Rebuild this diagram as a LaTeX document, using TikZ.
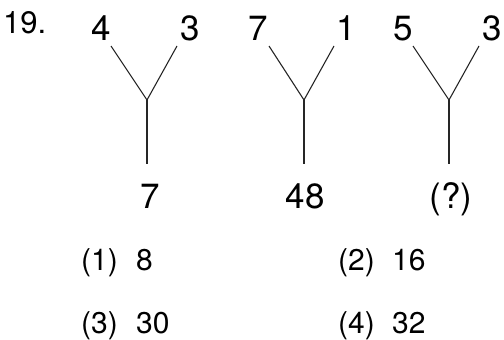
\documentclass[tikz,border=0pt]{standalone}
\usepackage{fontspec}
\setmainfont{TeX Gyre Heros}
\begin{document}
\begin{tikzpicture}[x=1pt,y=-1pt,
  num/.style={inner sep=0pt,anchor=base,font=\fontsize{35}{38}\selectfont},
  opt/.style={inner sep=0pt,anchor=base west,font=\fontsize{30}{34}\selectfont},
  qno/.style={inner sep=0pt,anchor=base west,font=\fontsize{31}{34}\selectfont},
  branch/.style={line width=1.1pt,draw=black!85}]
\useasboundingbox (0,0) rectangle (504,340);
\node[qno] (q) at (3,33) {19.};
% tree 1
\node[num] (t1l) at (101,41) {4};
\node[num] (t1r) at (190,41) {3};
\node[num] (t1b) at (150,208) {7};
\coordinate (a1) at (111,46); \coordinate (b1) at (177,46);
\coordinate (j1) at (147,100); \coordinate (s1) at (147,164);
\draw[branch] (a1) -- (j1) -- (b1);
\draw[branch] (j1) -- (s1);
% tree 2
\node[num] (t2l) at (258,41) {7};
\node[num] (t2r) at (346,41) {1};
\node[num] (t2b) at (305,208) {48};
\coordinate (a2) at (269,46); \coordinate (b2) at (334,46);
\coordinate (j2) at (304,100); \coordinate (s2) at (304,164);
\draw[branch] (a2) -- (j2) -- (b2);
\draw[branch] (j2) -- (s2);
% tree 3
\node[num] (t3l) at (403,41) {5};
\node[num] (t3r) at (492,41) {3};
\node[num] (t3b) at (451,208) {(?)};
\coordinate (a3) at (413,46); \coordinate (b3) at (479,46);
\coordinate (j3) at (449,100); \coordinate (s3) at (449,164);
\draw[branch] (a3) -- (j3) -- (b3);
\draw[branch] (j3) -- (s3);
% options
\node[opt] (o1) at (81,270) {(1)};
\node[opt] (v1) at (136,270) {8};
\node[opt] (o2) at (338,270) {(2)};
\node[opt] (v2) at (392,270) {16};
\node[opt] (o3) at (81,333) {(3)};
\node[opt] (v3) at (136,333) {30};
\node[opt] (o4) at (338,333) {(4)};
\node[opt] (v4) at (392,333) {32};
\end{tikzpicture}
\end{document}
